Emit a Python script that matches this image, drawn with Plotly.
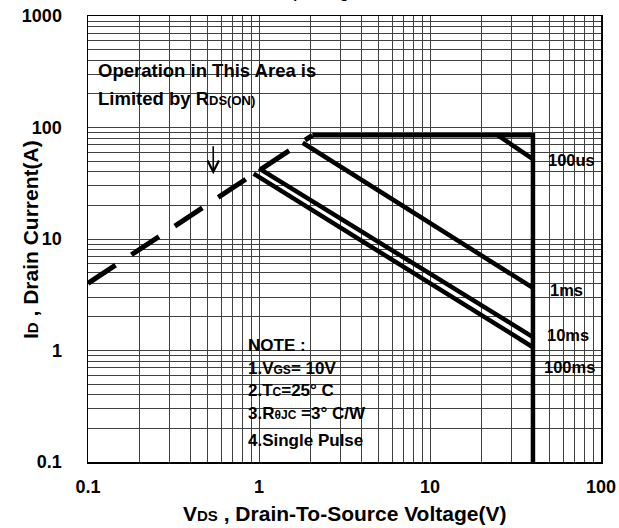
import math
import plotly.graph_objects as go

# ---------------- data ----------------
x_decades = [0.1, 1, 10, 100]
x_tick_labels = ["0.1", "1", "10", "100"]
y_decades = [0.1, 1, 10, 100, 1000]
y_tick_labels = ["0.1", "1", "10", "100", "1000"]

# RDS(on) limit (dashed)
rds_v = [0.1, 2.05]
rds_i = [4.0, 85.0]
# current / voltage limit (top line + VDS max)
limit_v = [2.05, 40, 40]
limit_i = [85, 85, 0.1]
# pulse lines
us100_v = [25, 40]
us100_i = [85, 52]
ms1_v = [1.8, 40]
ms1_i = [73, 3.64]
ms10_v = [1.0, 40]
ms10_i = [43, 1.32]
ms100_v = [0.93, 40]
ms100_i = [38.5, 1.07]

pulse_labels = ["100us", "1ms", "10ms", "100ms"]
note_lines = [
    "NOTE :",
    "1.V<span style='font-size:12px'>GS</span>= 10V",
    "2.T<span style='font-size:12px'>C</span>=25° C",
    "3.R<span style='font-size:12px'>θJC</span> =3° C/W",
    "4.Single Pulse",
]

# ---------------- layout geometry (pixels) ----------------
W, H = 619, 528
# plot area: x 88..601, y 16..462
L, R, T, B = 88, W - 601, 16, H - 462
PW, PH = W - L - R, H - T - B


def px(xp):
    return (xp - L) / PW


def py(yp):
    return (H - B - yp) / PH


FONT = "Liberation Sans, Arial, sans-serif"

fig = go.Figure()

line_style = dict(color="black", width=4.5)
fig.add_trace(go.Scatter(x=rds_v, y=rds_i, mode="lines",
                         line=dict(color="black", width=5, dash="33px,19px")))
fig.add_trace(go.Scatter(x=limit_v, y=limit_i, mode="lines", line=line_style))
fig.add_trace(go.Scatter(x=us100_v, y=us100_i, mode="lines", line=line_style))
fig.add_trace(go.Scatter(x=ms1_v, y=ms1_i, mode="lines", line=line_style))
fig.add_trace(go.Scatter(x=ms10_v, y=ms10_i, mode="lines", line=line_style))
fig.add_trace(go.Scatter(x=ms100_v, y=ms100_i, mode="lines", line=line_style))

x_grid = [m * d for d in x_decades[:-1] for m in range(1, 10)] + [x_decades[-1]]
x_text = [x_tick_labels[x_decades.index(v)] if v in x_decades else "" for v in x_grid]
y_grid = [m * d for d in y_decades[:-1] for m in range(1, 10)] + [y_decades[-1]]
y_text = [y_tick_labels[y_decades.index(v)] if v in y_decades else "" for v in y_grid]

grid_col = "#404040"
tick_font = dict(family=FONT, size=18, color="black", weight="bold")

fig.update_xaxes(type="log", range=[-1, 2], tickmode="array", tickvals=x_grid,
                 ticktext=x_text, showgrid=True, gridcolor=grid_col, gridwidth=1,
                 showline=True, linecolor="black", linewidth=1.5, mirror=True,
                 ticks="", tickfont=tick_font, ticklabelstandoff=8, zeroline=False,
                 ticklabeloverflow="allow")
fig.update_yaxes(type="log", range=[-1, 3], tickmode="array", tickvals=y_grid,
                 ticktext=y_text, showgrid=True, gridcolor=grid_col, gridwidth=1,
                 showline=True, linecolor="black", linewidth=1.5, mirror=True,
                 ticks="", tickfont=tick_font, ticklabelstandoff=21, zeroline=False,
                 ticklabeloverflow="allow")

shapes = []


def white_box(x0, y0, x1, y1):
    shapes.append(dict(type="rect", xref="paper", yref="paper",
                       x0=px(x0), x1=px(x1), y0=py(y1), y1=py(y0),
                       fillcolor="white", line=dict(width=0), layer="between"))


white_box(90, 57, 340, 113)
white_box(234, 332, 403, 460)
white_box(543, 145, 598, 177)
white_box(545, 282, 590, 300)
white_box(539, 317, 602, 383)

ann = []


def text(t, xp, yp, xanchor="left", size=15, yanchor="middle"):
    ann.append(dict(text=t, xref="paper", yref="paper", x=px(xp), y=py(yp),
                    xanchor=xanchor, yanchor=yanchor, showarrow=False,
                    font=dict(family=FONT, size=size, color="black", weight="bold")))


text("Operation in This Area is", 96, 70, size=18.5)
text("Limited by R<span style='font-size:13px'>DS(ON)</span>", 96, 99, size=18.5)
for t, yp in zip(note_lines, [345, 368, 390, 413, 440]):
    text(t, 246, yp, size=17)
for t, xp, yp in zip(pulse_labels, [571, 566, 568, 569], [160, 290, 335, 367]):
    text(t, xp, yp, xanchor="center", size=16.5)

# axis titles
text("V<span style='font-size:15px'>DS</span> , Drain-To-Source Voltage(V)", 344, 513,
     xanchor="center", size=21)
ann.append(dict(text="I<span style='font-size:15px'>D</span> , Drain Current(A)",
                xref="paper", yref="paper", x=px(30), y=py(240), textangle=-90,
                xanchor="center", yanchor="middle", showarrow=False,
                font=dict(family=FONT, size=21, color="black", weight="bold")))
# title, cropped at the top edge as in the reference
text("Safe Operating Area", 316, 3, xanchor="center", size=14, yanchor="bottom")

# arrow pointing to the RDS(on) line
ann.append(dict(x=math.log10(0.54), y=math.log10(38), ax=math.log10(0.54),
                ay=math.log10(70), xref="x", yref="y", axref="x", ayref="y",
                showarrow=True, arrowhead=5, arrowsize=1.4, arrowwidth=1.6,
                arrowcolor="black", text="", standoff=0))

fig.update_layout(width=W, height=H, margin=dict(l=L, r=R, t=T, b=B, autoexpand=False),
                  paper_bgcolor="white", plot_bgcolor="white", showlegend=False,
                  shapes=shapes, annotations=ann, hovermode=False)

fig.write_html("out.html",
               config={"displayModeBar": False, "staticPlot": True},
               post_script="document.body.style.margin='0px';"
                           "document.body.style.overflow='hidden';")
